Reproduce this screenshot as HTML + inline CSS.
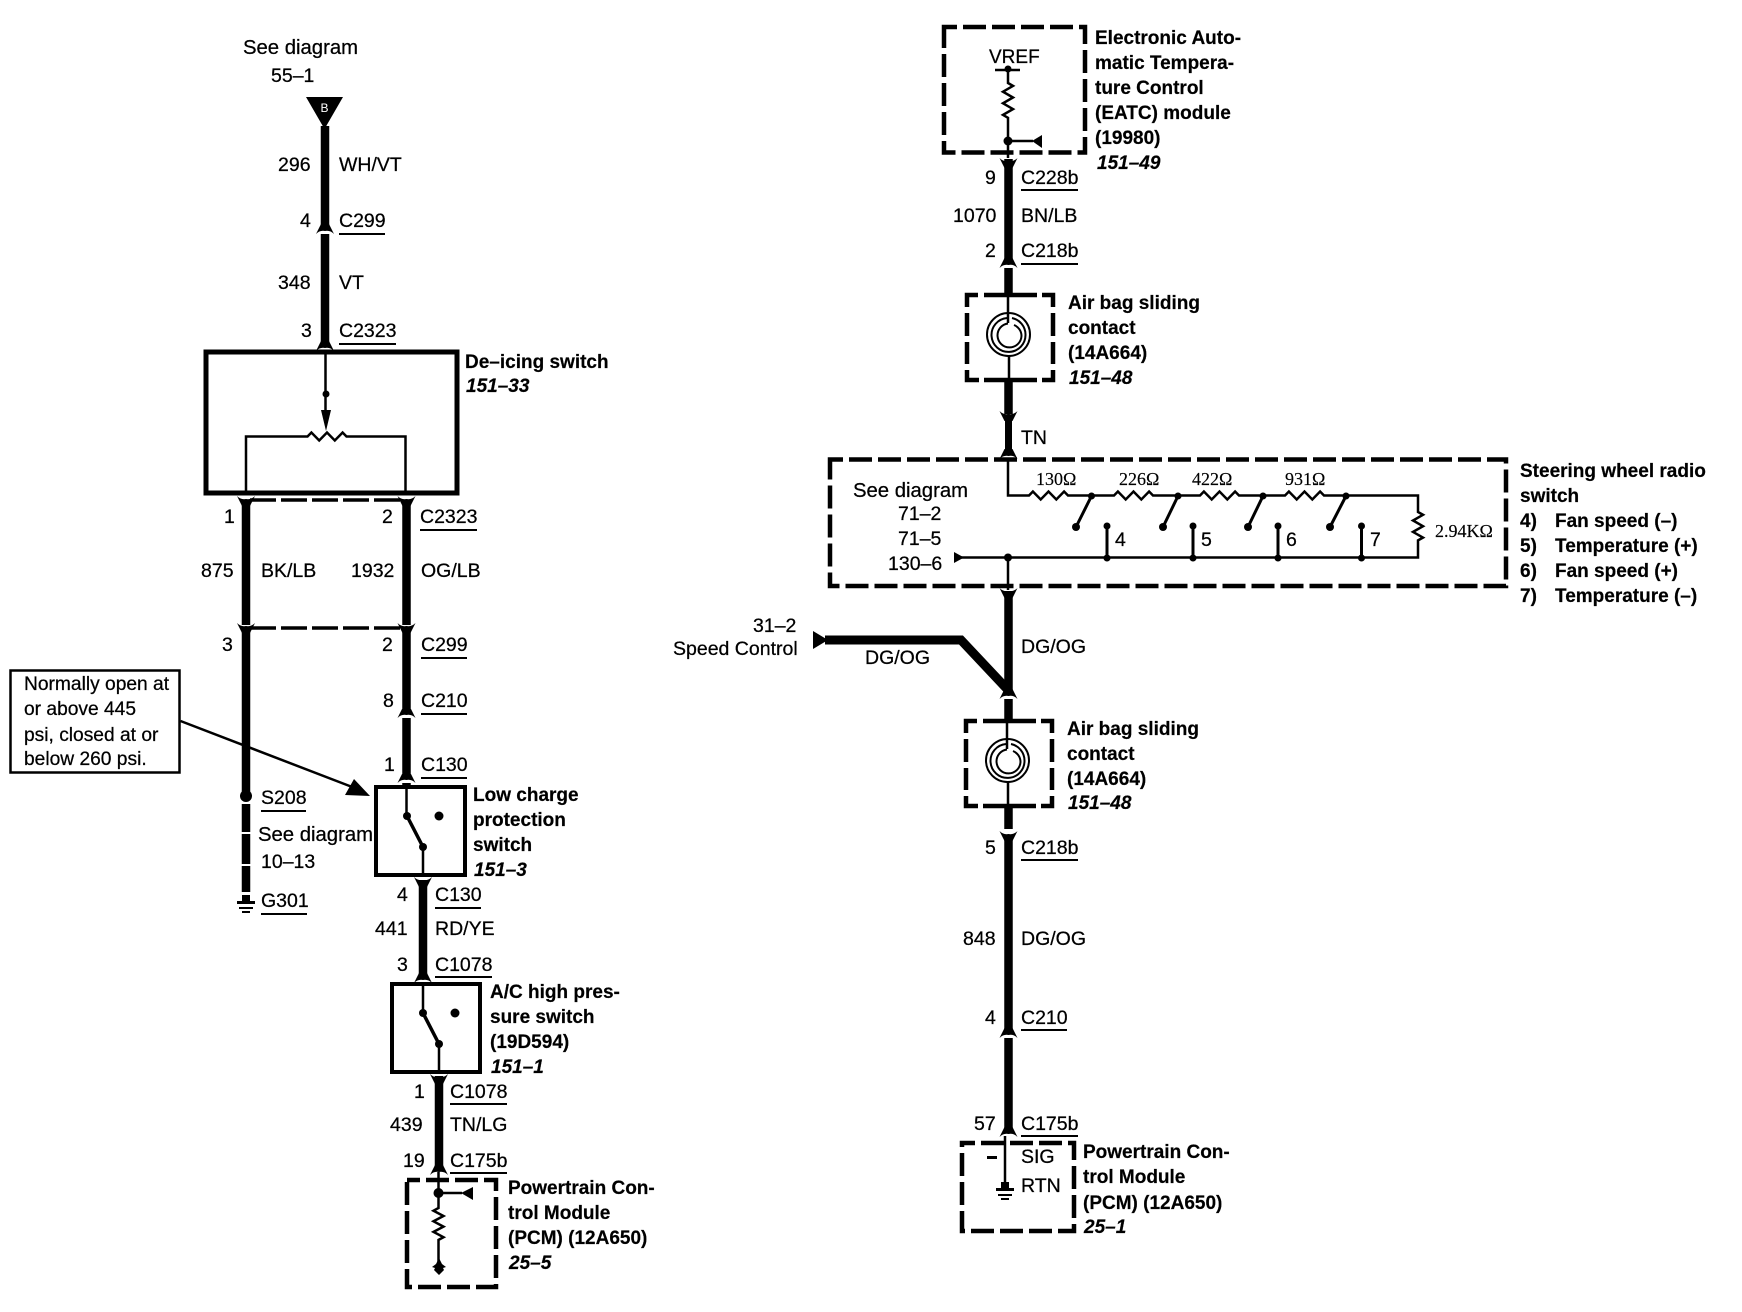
<!DOCTYPE html>
<html><head><meta charset="utf-8"><title>Wiring diagram</title>
<style>
html,body{margin:0;padding:0;background:#fff}
svg{display:block}
text{fill:#000;font-family:"Liberation Sans",sans-serif}
.r{font-size:19.5px;stroke:#000;stroke-width:.25}
.sd{font-size:20.3px;stroke:#000;stroke-width:.25}
.c{font-size:19.2px;stroke:#000;stroke-width:.25}
.b{font-size:19px;font-weight:bold;stroke:#000;stroke-width:.2}
.i{font-size:19px;font-weight:bold;font-style:italic;stroke:#000;stroke-width:.2}
.s{font-size:18px;font-family:"Liberation Serif",serif;stroke:#000;stroke-width:.15}
.w{fill:none;stroke:#000;stroke-width:8.5}
.t{fill:none;stroke:#000;stroke-width:2.5}
.u{fill:none;stroke:#000;stroke-width:2}
.box{fill:none;stroke:#000;stroke-width:5}
.d{fill:none;stroke:#000;stroke-width:4.5;stroke-dasharray:23 6;stroke-dashoffset:10}
.h{fill:none;stroke:#000;stroke-width:3.5;stroke-dasharray:26 5}
.ab{fill:none;stroke:#000;stroke-width:4.5}
</style></head><body>
<svg width="1742" height="1312" viewBox="0 0 1742 1312" xmlns="http://www.w3.org/2000/svg">
<defs>
<path id="up" d="M-9 5L-4 -5H4L9 5Q5 1 0 2Q-5 1 -9 5Z"/>
<path id="dn" d="M-9 -5L-4 5H4L9 -5Q5 -1 0 -2Q-5 -1 -9 -5Z"/>
<path id="gnd" d="M-4 -8H4V-2H9V1H-9V-2H-4Z M-7 4H7V6H-7Z M-4 8H4V10H-4Z"/>
<g id="airbag">
<path class="ab" d="M978 295H967V307M984 295H1037M1042 295H1053V307M967 313V336M967 342V364M967 370V380H979M984 380H1037M1042 380H1053V370M1053 364V342M1053 336V313"/>
<path class="t" d="M1008 295V323M1009 356V380"/>
<g style="fill:none;stroke:#000;stroke-width:2">
<circle cx="1008.500" cy="334.500" r="21.500"/>
<path d="M1007 318A17 17 0 1 0 1025.500 334.500A17 17 0 0 0 1012 318"/>
<path d="M1008 323.500A12 12 0 1 0 1021.500 336A12 12 0 0 0 1014 325"/>
</g>
</g>
</defs>
<rect width="1742" height="1312" fill="#fff"/>

<!-- LEFT COLUMN -->
<text class="sd" x="243" y="54">See diagram</text>
<text class="r" x="271" y="82">55–1</text>
<path d="M306 97H343L324.500 129Z"/>
<text x="324.500" y="112" text-anchor="middle" style="font-size:12px;fill:#fff">B</text>
<path class="w" d="M325 126V226M325 234V345"/>
<use href="#up" x="325" y="229"/><use href="#up" x="325" y="346"/>
<text class="r" x="278" y="171">296</text><text class="r" x="339" y="171">WH/VT</text>
<text class="r" x="300" y="227">4</text><text class="r" x="339" y="227">C299</text>
<path class="u" d="M339 234H385"/>
<text class="r" x="278" y="289">348</text><text class="r" x="339" y="289">VT</text>
<text class="r" x="301" y="337">3</text><text class="r" x="339" y="337">C2323</text>
<path class="u" d="M339 344H396"/>

<rect class="box" x="206" y="352" width="251" height="141"/>
<text class="b" x="465" y="368">De–icing switch</text>
<text class="i" x="466" y="392">151–33</text>
<path class="t" d="M325.500 352V412"/><circle cx="326" cy="394" r="3.500"/>
<path d="M321 410H331L326 431Z"/>
<path class="t" d="M246 493V436.500H307.500l3.900 -4 7.800 8 7.800 -8 7.800 8 7.800 -8 3.900 4H405.500V493"/>

<path class="h" d="M250 500H402"/>
<path class="h" d="M250 628H402"/>
<path class="w" d="M246 500V625M246 632V796M246 804V832M246 834V864M246 866V892"/>
<path class="w" d="M406.500 500V625M406.500 632V708M406.500 718V773M406.500 783V787"/>
<use href="#dn" x="246" y="501"/><use href="#dn" x="406.500" y="501"/>
<use href="#dn" x="246" y="628"/><use href="#dn" x="406.500" y="628"/>
<use href="#up" x="406.500" y="713"/><use href="#up" x="406.500" y="778"/>
<text class="r" x="224" y="523">1</text><text class="r" x="382" y="523">2</text>
<text class="r" x="420" y="523">C2323</text><path class="u" d="M420 530H477"/>
<text class="r" x="201" y="577">875</text><text class="r" x="261" y="577">BK/LB</text>
<text class="r" x="351" y="577">1932</text><text class="r" x="421" y="577">OG/LB</text>
<text class="r" x="222" y="651">3</text><text class="r" x="382" y="651">2</text>
<text class="r" x="421" y="651">C299</text><path class="u" d="M421 658H467"/>
<text class="r" x="383" y="707">8</text><text class="r" x="421" y="707">C210</text><path class="u" d="M421 714H467"/>
<text class="r" x="384" y="771">1</text><text class="r" x="421" y="771">C130</text><path class="u" d="M421 778H467"/>

<rect x="10.500" y="670.500" width="169" height="102" fill="#fff" stroke="#000" stroke-width="2.500"/>
<text class="c" x="24" y="690">Normally open at</text>
<text class="c" x="24" y="715">or above 445</text>
<text class="c" x="24" y="741">psi, closed at or</text>
<text class="c" x="24" y="765">below 260 psi.</text>
<path class="t" d="M180.500 721L360 790"/>
<path d="M370 796L354 779L345 795Z"/>

<circle cx="246" cy="796" r="6"/>
<use href="#gnd" x="246" y="903"/>
<text class="r" x="261" y="804">S208</text><path class="u" d="M261 811H306"/>
<text class="sd" x="258" y="841">See diagram</text>
<text class="r" x="261" y="868">10–13</text>
<text class="r" x="261" y="907">G301</text><path class="u" d="M261 914H307"/>

<rect x="376" y="787" width="89" height="88" fill="none" stroke="#000" stroke-width="4"/>
<path class="t" d="M406.500 787V816M423 847V875"/>
<path d="M407 816L423 847" stroke="#000" stroke-width="3.500" fill="none"/>
<circle cx="407" cy="816" r="4"/><circle cx="439" cy="816" r="4.500"/><circle cx="423" cy="847" r="4"/>
<text class="b" x="473" y="801">Low charge</text>
<text class="b" x="473" y="826">protection</text>
<text class="b" x="473" y="851">switch</text>
<text class="i" x="474" y="876">151–3</text>

<path class="w" d="M423 880V975"/>
<use href="#dn" x="423" y="882"/><use href="#up" x="423" y="978"/>
<text class="r" x="397" y="901">4</text><text class="r" x="435" y="901">C130</text><path class="u" d="M435 908H481"/>
<text class="r" x="375" y="935">441</text><text class="r" x="435" y="935">RD/YE</text>
<text class="r" x="397" y="971">3</text><text class="r" x="435" y="971">C1078</text><path class="u" d="M435 977H492"/>

<rect x="392" y="984" width="88" height="88" fill="none" stroke="#000" stroke-width="4"/>
<path class="t" d="M423 984V1013M439 1044V1072"/>
<path d="M423 1013L439 1044" stroke="#000" stroke-width="3.500" fill="none"/>
<circle cx="423" cy="1013" r="4"/><circle cx="455" cy="1013" r="4.500"/><circle cx="439" cy="1044" r="4"/>
<text class="b" x="490" y="998">A/C high pres-</text>
<text class="b" x="490" y="1023">sure switch</text>
<text class="b" x="490" y="1048">(19D594)</text>
<text class="i" x="491" y="1073">151–1</text>

<path class="w" d="M439 1076V1168"/>
<use href="#dn" x="439" y="1079"/><use href="#up" x="439" y="1170"/>
<text class="r" x="414" y="1098">1</text><text class="r" x="450" y="1098">C1078</text><path class="u" d="M450 1104H507"/>
<text class="r" x="390" y="1131">439</text><text class="r" x="450" y="1131">TN/LG</text>
<text class="r" x="403" y="1167">19</text><text class="r" x="450" y="1167">C175b</text><path class="u" d="M450 1173H507"/>

<rect class="d" x="407" y="1180" width="89" height="107"/>
<path class="t" d="M438.500 1172V1208l-5 2.700 10 5.300 -10 5.300 10 5.300 -10 5.300 10 5.300 -5 2.700V1262M438.500 1193H462"/>
<circle cx="438.500" cy="1193" r="5"/><path d="M461 1193L473 1187V1200Z"/>
<path d="M439 1258l3 6 4 3 -3 1 1 2 -5 5 -5 -5 1 -2 -3 -1 4 -3Z"/>
<text class="b" x="508" y="1194">Powertrain Con-</text>
<text class="b" x="508" y="1219">trol Module</text>
<text class="b" x="508" y="1244">(PCM) (12A650)</text>
<text class="i" x="509" y="1269">25–5</text>

<!-- RIGHT COLUMN -->
<rect class="d" x="944" y="27" width="141" height="125.500"/>
<text class="r" x="989" y="63" style="font-size:19px">VREF</text>
<path class="t" d="M995 70H1020M1008 69V83l5 2.900 -10 5.800 10 5.800 -10 5.800 10 5.800 -10 5.800 5 2.900V158M1008 141H1033"/>
<circle cx="1008" cy="69" r="3.500"/><circle cx="1008" cy="141" r="4.500"/>
<path d="M1032 141L1042 135V148Z"/>
<text class="b" x="1095" y="44">Electronic Auto-</text>
<text class="b" x="1095" y="69">matic Tempera-</text>
<text class="b" x="1095" y="94">ture Control</text>
<text class="b" x="1095" y="119">(EATC) module</text>
<text class="b" x="1095" y="144">(19980)</text>
<text class="i" x="1097" y="169">151–49</text>

<path class="w" d="M1008.500 159V259M1008.500 268V296"/>
<use href="#dn" x="1008.500" y="163"/><use href="#up" x="1008.500" y="263"/>
<text class="r" x="985" y="184">9</text><text class="r" x="1021" y="184">C228b</text><path class="u" d="M1021 190H1078"/>
<text class="r" x="953" y="222">1070</text><text class="r" x="1021" y="222">BN/LB</text>
<text class="r" x="985" y="257">2</text><text class="r" x="1021" y="257">C218b</text><path class="u" d="M1021 264H1078"/>

<use href="#airbag"/>
<text class="b" x="1068" y="309">Air bag sliding</text>
<text class="b" x="1068" y="334">contact</text>
<text class="b" x="1068" y="359">(14A664)</text>
<text class="i" x="1069" y="384">151–48</text>

<path class="w" d="M1008.500 381V414"/>
<path class="t" d="M1008.500 414V455"/>
<path d="M1005 418H1012V450H1005Z"/>
<use href="#dn" x="1008.500" y="416"/><use href="#up" x="1008.500" y="454"/>
<text class="r" x="1021" y="444">TN</text>

<rect class="d" x="830" y="459.500" width="676" height="126.500"/>
<text class="b" x="1520" y="477">Steering wheel radio</text>
<text class="b" x="1520" y="502">switch</text>
<text class="b" x="1520" y="527">4)</text><text class="b" x="1555" y="527">Fan speed (–)</text>
<text class="b" x="1520" y="552">5)</text><text class="b" x="1555" y="552">Temperature (+)</text>
<text class="b" x="1520" y="577">6)</text><text class="b" x="1555" y="577">Fan speed (+)</text>
<text class="b" x="1520" y="602">7)</text><text class="b" x="1555" y="602">Temperature (–)</text>

<text class="sd" x="853" y="497">See diagram</text>
<text class="r" x="898" y="520">71–2</text>
<text class="r" x="898" y="545">71–5</text>
<text class="r" x="888" y="570">130–6</text>

<path class="t" d="M1008 460V495.500H1029l3.900 -4 7.800 8 7.800 -8 7.800 8 7.800 -8 3.900 4H1114l3.900 -4 7.800 8 7.800 -8 7.800 8 7.800 -8 3.900 4H1200l3.900 -4 7.800 8 7.800 -8 7.800 8 7.800 -8 3.900 4H1285l3.900 -4 7.800 8 7.800 -8 7.800 8 7.800 -8 3.900 4H1418V512l5 2.800 -10 5.700 10 5.700 -10 5.700 10 5.700 -5 2.800V557.500H960"/>
<path d="M954 552L964 557.500L954 563Z"/>
<g stroke="#000" stroke-width="3" fill="none">
<path d="M1091.500 496L1076 527M1178 496L1163 527M1263 496L1248 527M1346 496L1330 527"/>
<path d="M1107 526V558M1193 526V558M1278 526V558M1361.500 526V558"/>
</g>
<g>
<circle cx="1091.500" cy="496" r="3.500"/><circle cx="1178" cy="496" r="3.500"/><circle cx="1263" cy="496" r="3.500"/><circle cx="1346" cy="496" r="3.500"/>
<circle cx="1076" cy="527" r="4"/><circle cx="1163" cy="527" r="4"/><circle cx="1248" cy="527" r="4"/><circle cx="1330" cy="527" r="4"/>
<circle cx="1107" cy="526" r="3.500"/><circle cx="1193" cy="526" r="3.500"/><circle cx="1278" cy="526" r="3.500"/><circle cx="1361.500" cy="526" r="3.500"/>
<circle cx="1107" cy="558" r="3.500"/><circle cx="1193" cy="558" r="3.500"/><circle cx="1278" cy="558" r="3.500"/><circle cx="1361.500" cy="558" r="3.500"/>
<circle cx="1008" cy="557.500" r="4"/>
</g>
<text class="s" x="1036" y="485">130Ω</text>
<text class="s" x="1119" y="485">226Ω</text>
<text class="s" x="1192" y="485">422Ω</text>
<text class="s" x="1285" y="485">931Ω</text>
<text class="s" x="1435" y="537">2.94KΩ</text>
<text class="r" x="1115" y="546">4</text><text class="r" x="1201" y="546">5</text>
<text class="r" x="1286" y="546">6</text><text class="r" x="1370" y="546">7</text>

<path class="t" d="M1008 558V590"/>
<path class="w" d="M1008.500 591V692"/>
<use href="#dn" x="1008.500" y="593"/>
<text class="r" x="1021" y="653">DG/OG</text>
<path d="M813 631L828 640L813 649Z"/>
<path class="w" style="stroke-width:9" d="M825 640H961L1008 690"/>
<text class="r" x="753" y="632">31–2</text>
<text class="r" x="673" y="655">Speed Control</text>
<text class="r" x="865" y="664">DG/OG</text>
<use href="#up" x="1008.500" y="694"/>
<path class="w" d="M1008.500 699V720"/>

<use href="#airbag" x="-1" y="426"/>
<text class="b" x="1067" y="735">Air bag sliding</text>
<text class="b" x="1067" y="760">contact</text>
<text class="b" x="1067" y="785">(14A664)</text>
<text class="i" x="1068" y="809">151–48</text>

<path class="w" d="M1008.500 806V829M1008.500 836V1031M1008.500 1038V1133"/>
<use href="#dn" x="1008.500" y="836"/><use href="#up" x="1008.500" y="1033"/><use href="#up" x="1008.500" y="1132"/>
<text class="r" x="985" y="854">5</text><text class="r" x="1021" y="854">C218b</text><path class="u" d="M1021 860H1078"/>
<text class="r" x="963" y="945">848</text><text class="r" x="1021" y="945">DG/OG</text>
<text class="r" x="985" y="1024">4</text><text class="r" x="1021" y="1024">C210</text><path class="u" d="M1021 1030H1067"/>
<text class="r" x="974" y="1130">57</text><text class="r" x="1021" y="1130">C175b</text><path class="u" d="M1021 1136H1078"/>

<rect class="d" x="962" y="1143" width="112" height="88"/>
<path class="t" d="M1005 1136V1186"/>
<use href="#gnd" x="1005" y="1190"/>
<path d="M987 1156H997V1159H987Z"/>
<text class="r" x="1021" y="1163">SIG</text>
<text class="r" x="1021" y="1192">RTN</text>
<text class="b" x="1083" y="1158">Powertrain Con-</text>
<text class="b" x="1083" y="1183">trol Module</text>
<text class="b" x="1083" y="1209">(PCM) (12A650)</text>
<text class="i" x="1084" y="1233">25–1</text>
</svg>
</body></html>
